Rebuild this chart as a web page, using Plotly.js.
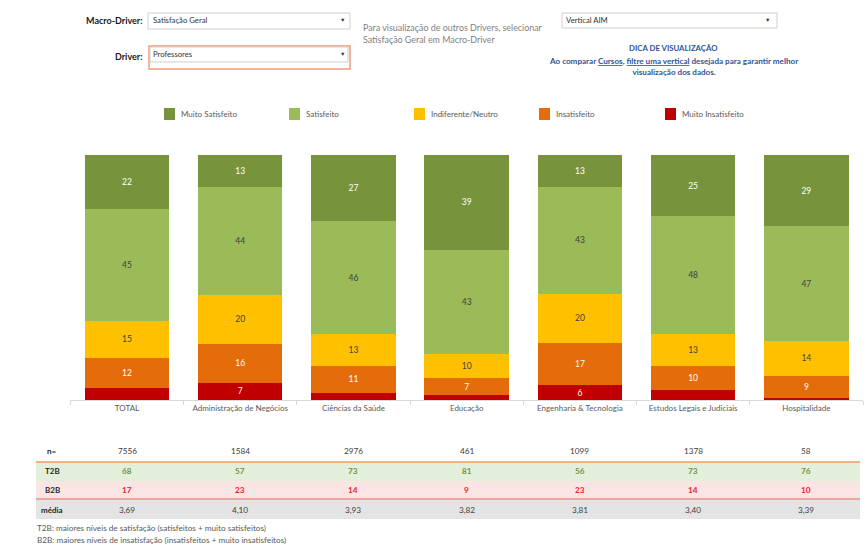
<!DOCTYPE html>
<html>
<head>
<meta charset="utf-8">
<script src="https://cdn.plot.ly/plotly-3.0.1.min.js"></script>
<style>html,body{margin:0;padding:0;background:#fff;}#chart{width:867px;height:545px;}</style>
</head>
<body>
<div id="chart"></div>
<script>
// ---- DATA ----
const categories = ["TOTAL", "Administração de Negócios", "Ciências da Saúde", "Educação", "Engenharia & Tecnologia", "Estudos Legais e Judiciais", "Hospitalidade"];
const seriesNames = ["Muito Insatisfeito", "Insatisfeito", "Indiferente/Neutro", "Satisfeito", "Muito Satisfeito"];
const muitoInsatisfeito = [5, 7, 3, 2, 6, 4, 1];
const insatisfeito = [12, 16, 11, 7, 17, 10, 9];
const indiferente = [15, 20, 13, 10, 20, 13, 14];
const satisfeito = [45, 44, 46, 43, 43, 48, 47];
const muitoSatisfeito = [22, 13, 27, 39, 13, 25, 29];
const nValues = ["7556", "1584", "2976", "461", "1099", "1378", "58"];
const t2b = ["68", "57", "73", "81", "56", "73", "76"];
const b2b = ["17", "23", "14", "9", "23", "14", "10"];
const media = ["3,69", "4,10", "3,93", "3,82", "3,81", "3,40", "3,39"];
const legendOrder = ["Muito Satisfeito", "Satisfeito", "Indiferente/Neutro", "Insatisfeito", "Muito Insatisfeito"];

// ---- STYLE ----
const W = 867, H = 545;
const px = x => x / W;
const py = y => 1 - y / H;
const FONT = "Lato, 'Open Sans', sans-serif";
const colors = {
  "Muito Satisfeito": "#77933C",
  "Satisfeito": "#9BBB59",
  "Indiferente/Neutro": "#FFC000",
  "Insatisfeito": "#E46C0A",
  "Muito Insatisfeito": "#C00000"
};
const textColors = {
  "Muito Satisfeito": "#ffffff",
  "Satisfeito": "#404040",
  "Indiferente/Neutro": "#404040",
  "Insatisfeito": "#ffffff",
  "Muito Insatisfeito": "#ffffff"
};
const seriesValues = [muitoInsatisfeito, insatisfeito, indiferente, satisfeito, muitoSatisfeito];

const traces = seriesNames.map((name, i) => ({
  type: "bar",
  name: name,
  x: categories,
  y: seriesValues[i],
  text: seriesValues[i].map(v => v >= 6 ? String(v) : ""),
  textposition: "inside",
  insidetextanchor: "middle",
  textangle: 0,
  constraintext: "none",
  textfont: {family: FONT, size: 8.5, color: textColors[name]},
  marker: {color: colors[name], line: {width: 0}},
  hoverinfo: "x+y+name",
  showlegend: false
}));

const shapes = [];
const annotations = [];
function txt(x, y, text, opt) {
  annotations.push(Object.assign({
    xref: "paper", yref: "paper", x: px(x), y: py(y), text: text, showarrow: false,
    xanchor: "left", yanchor: "middle", borderpad: 0,
    font: {family: FONT, size: 8, color: "#333333"}
  }, opt || {}));
}
function rect(x0, y0, x1, y1, fill, line, lw) {
  shapes.push({type: "rect", xref: "paper", yref: "paper", x0: px(x0), x1: px(x1), y0: py(y1), y1: py(y0),
    fillcolor: fill, line: {color: line || "rgba(0,0,0,0)", width: lw === undefined ? 1 : lw}, layer: "below"});
}
function hline(x0, x1, y, color, w) {
  shapes.push({type: "line", xref: "paper", yref: "paper", x0: px(x0), x1: px(x1), y0: py(y), y1: py(y),
    line: {color: color, width: w}, layer: "above"});
}

// ---- Top controls ----
rect(148, 13, 350, 29, "#ffffff", "#cfcfcf", 1);
txt(144, 21, "<b>Macro-Driver:</b>", {xanchor: "right", font: {family: FONT, size: 9, color: "#1a1a1a"}});
txt(152, 20.5, "Satisfação Geral", {font: {family: FONT, size: 7.7, color: "#333"}});
txt(342, 20, "▼", {xanchor: "center", font: {family: FONT, size: 5.5, color: "#333"}});

rect(149, 46, 350, 69, "#ffffff", "#F19A7C", 1.5);
rect(150, 47, 348, 62, "#ffffff", "#cfcfcf", 1);
txt(144, 57, "<b>Driver:</b>", {xanchor: "right", font: {family: FONT, size: 9, color: "#1a1a1a"}});
txt(152, 54, "Professores", {font: {family: FONT, size: 7.7, color: "#333"}});
txt(342, 54, "▼", {xanchor: "center", font: {family: FONT, size: 5.5, color: "#333"}});

txt(362, 33.5, "Para visualização de outros Drivers, selecionar<br>Satisfação Geral em Macro-Driver",
  {align: "left", font: {family: FONT, size: 8.9, color: "#7f7f7f"}});

rect(562, 13, 777, 28, "#ffffff", "#cfcfcf", 1);
txt(565, 20.5, "Vertical AIM", {font: {family: FONT, size: 7.7, color: "#333"}});
txt(767, 20, "▼", {xanchor: "center", font: {family: FONT, size: 5.5, color: "#333"}});

txt(673, 48, "<b>DICA DE VISUALIZAÇÃO</b>", {xanchor: "center", font: {family: FONT, size: 7.8, color: "#2F5597"}});
txt(673, 66, "<b>Ao comparar <span style=\"text-decoration:underline\">Cursos</span>, <span style=\"text-decoration:underline\">filtre uma vertical</span> desejada para garantir melhor<br>visualização dos dados.</b>",
  {xanchor: "center", align: "center", font: {family: FONT, size: 8.1, color: "#2F5597"}});

// ---- Legend ----
const legX = [164, 289, 414, 539, 665];
legendOrder.forEach((name, i) => {
  rect(legX[i], 108, legX[i] + 11, 120, colors[name], null, 0);
  txt(legX[i] + 16, 113.5, name, {font: {family: FONT, size: 8, color: "#595959"}});
});

// ---- Table ----
rect(36, 462, 860, 481, "#E2EFDA", null, 0);
rect(36, 481, 860, 499, "#FBE4E4", null, 0);
rect(36, 499, 860, 519, "#E4E4E4", null, 0);
hline(36, 860, 462, "#F4B183", 2);
hline(36, 860, 499, "#E07050", 1);

const rowY = [451, 471, 490, 509.5];
const rowLabels = ["n=", "T2B", "B2B", "média"];
rowLabels.forEach((lab, i) => {
  txt(52, rowY[i], "<b>" + lab + "</b>", {xanchor: "center", font: {family: FONT, size: 8, color: "#262626"}});
});
const rowData = [nValues, t2b, b2b, media];
const rowStyle = [
  {bold: false, color: "#404040"},
  {bold: true, color: "#77933C"},
  {bold: true, color: "#E0262B"},
  {bold: false, color: "#404040"}
];
rowData.forEach((arr, r) => {
  arr.forEach((v, c) => {
    annotations.push({
      xref: "x", yref: "paper", x: categories[c], y: py(rowY[r]), showarrow: false,
      text: rowStyle[r].bold ? "<b>" + v + "</b>" : v,
      xanchor: "center", yanchor: "middle",
      font: {family: FONT, size: 8.2, color: rowStyle[r].color}
    });
  });
});

txt(36, 528, "T2B: maiores níveis de satisfação (satisfeitos + muito satisfeitos)", {font: {family: FONT, size: 8.2, color: "#595959"}});
txt(36, 539.5, "B2B: maiores níveis de insatisfação (insatisfeitos + muito insatisfeitos)", {font: {family: FONT, size: 8.2, color: "#595959"}});

const layout = {
  width: W, height: H,
  margin: {l: 0, r: 0, t: 0, b: 0, pad: 0},
  paper_bgcolor: "#ffffff", plot_bgcolor: "#ffffff",
  barmode: "stack", barnorm: "percent", bargap: 0.254,
  showlegend: false,
  font: {family: FONT},
  xaxis: {
    domain: [px(70.4), px(863)],
    showline: true, linecolor: "#d9d9d9", linewidth: 1,
    ticks: "outside", tickson: "boundaries", ticklen: 4, tickcolor: "#d9d9d9",
    tickfont: {family: FONT, size: 8, color: "#595959"},
    showgrid: false, zeroline: false, fixedrange: true
  },
  yaxis: {
    domain: [py(400), py(155)],
    range: [0, 100], visible: false, showgrid: false, zeroline: false, fixedrange: true
  },
  shapes: shapes,
  annotations: annotations
};

Plotly.newPlot("chart", traces, layout, {displayModeBar: false, staticPlot: true});
</script>
</body>
</html>
